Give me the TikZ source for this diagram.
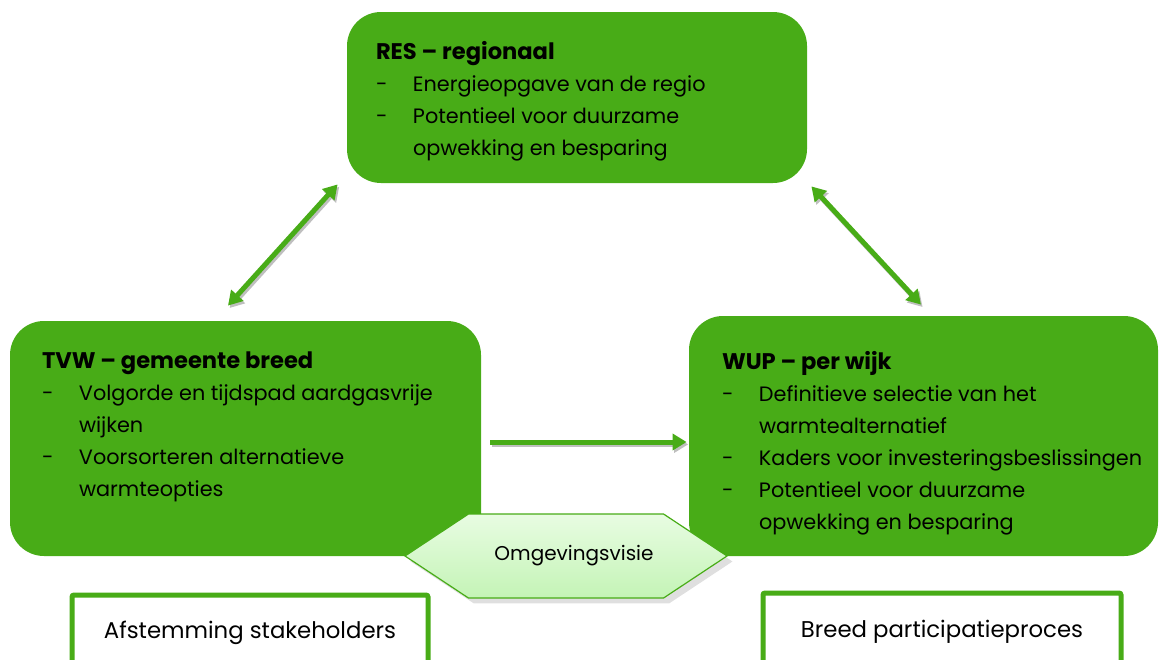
\documentclass[tikz,border=0pt]{standalone}
\usepackage{fontspec}
\setmainfont{Poppins}
\usetikzlibrary{arrows.meta,shapes.symbols,shadows}

\definecolor{wgreen}{RGB}{72,172,23}
\definecolor{hexlight}{RGB}{232,252,226}
\definecolor{hexdark}{RGB}{196,244,182}
\newcommand{\dashitem}{\makebox[18.5pt][l]{-}}
\newcommand{\dashcont}{\hspace*{18.5pt}}
\newcommand{\boxtitle}[1]{{\fontsize{11.3}{16}\selectfont\bfseries #1}}

\begin{document}
\begin{tikzpicture}[x=0.5pt,y=-0.5pt,
  greenbox/.style={fill=wgreen, rounded corners=17pt, inner sep=0pt},
  boxtext/.style={anchor=north west, inner sep=0pt, align=left, font=\fontsize{10.4}{16}\selectfont},
  linkarrow/.style={draw=wgreen, line width=2.5pt,
    preaction={draw=black!25, line width=2.5pt, transform canvas={shift={(0.8pt,-1.2pt)}}}},
  hexbox/.style={signal, signal to=west and east, signal pointer angle=67,
    draw=wgreen, line width=0.6pt, top color=hexlight, bottom color=hexdark,
    minimum width=161pt, minimum height=42pt, inner sep=0pt, drop shadow={opacity=0.25},
    font=\fontsize{10}{12}\selectfont},
  framebox/.style={draw=wgreen, line width=2.5pt, fill=white, rounded corners=1pt,
    font=\fontsize{11.4}{13}\selectfont}
]
\useasboundingbox (0,0) rectangle (1160,659);

% de drie niveaus
\node[greenbox, minimum width=230pt, minimum height=85.5pt] at (577,97.5)(res){};
\node[greenbox, minimum width=235.5pt, minimum height=117.5pt] at (245.5,438.5)(tvw){};
\node[greenbox, minimum width=234.5pt, minimum height=120pt] at (923.5,436)(wup){};

\node[boxtext] at ([shift={(29,29)}]res.north west)(restext){%
  \boxtitle{RES – regionaal}\\
  \dashitem Energieopgave van de regio\\
  \dashitem Potentieel voor duurzame\\
  \dashcont opwekking en besparing};
\node[boxtext] at ([shift={(32,31)}]tvw.north west)(tvwtext){%
  \boxtitle{TVW – gemeente breed}\\
  \dashitem Volgorde en tijdspad aardgasvrije\\
  \dashcont wijken\\
  \dashitem Voorsorteren alternatieve\\
  \dashcont warmteopties};
\node[boxtext] at ([shift={(33,35)}]wup.north west)(wuptext){%
  \boxtitle{WUP – per wijk}\\
  \dashitem Definitieve selectie van het\\
  \dashcont warmtealternatief\\
  \dashitem Kaders voor investeringsbeslissingen\\
  \dashitem Potentieel voor duurzame\\
  \dashcont opwekking en besparing};

% pijlen
\coordinate (restipl) at ([shift={(-9,1)}]res.south west);
\coordinate (tvwtip) at ([shift={(-17.5,-15)}]tvw.north);
\coordinate (restipr) at ([shift={(4,3)}]res.south east);
\coordinate (wuptip) at ([shift={(-2.5,-11)}]wup.north);
\coordinate (tvwout) at ([shift={(9,3.5)}]tvw.east);
\coordinate (wupin) at ([shift={(-2,6)}]wup.west);
\draw[linkarrow, {Triangle[width=8pt,length=7pt]}-{Triangle[width=8pt,length=7pt]}] (tvwtip) -- (restipl);
\draw[linkarrow, {Triangle[width=8pt,length=7pt]}-{Triangle[width=8pt,length=7pt]}] (restipr) -- (wuptip);
\draw[linkarrow, -{Triangle[width=8pt,length=7pt]}] (tvwout) -- (wupin);

\node[hexbox] at (566,556)(omg){\hspace*{8pt}Omgevingsvisie};

\node[framebox, minimum width=178pt, minimum height=38pt] at (250,633)(afst){Afstemming stakeholders};
\node[framebox, minimum width=179pt, minimum height=39pt] at (942,632)(part){Breed participatieproces};
\end{tikzpicture}
\end{document}
